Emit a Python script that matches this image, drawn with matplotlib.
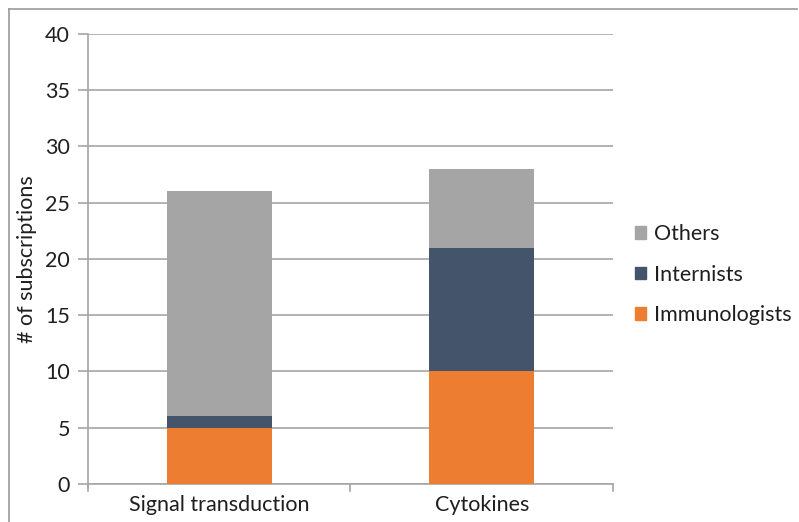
import matplotlib.pyplot as plt
import numpy as np
from matplotlib.lines import Line2D
from matplotlib.patches import Patch

plt.rcParams["font.family"] = ["Lato", "DejaVu Sans"]

categories = ["Signal transduction", "Cytokines"]
immunologists = [5, 10]
internists = [1, 11]
others = [20, 7]

series = [
    ("Immunologists", immunologists, "#ED7D31"),
    ("Internists", internists, "#44546A"),
    ("Others", others, "#A5A5A5"),
]

grid_col = "#A6A6A6"
text_col = "#1F1F1F"
fs = 15.5

fig = plt.figure(figsize=(7.99, 5.22), dpi=100)
ax = fig.add_axes([0.1101, 0.0728, 0.6571, 0.8621])

x = np.arange(len(categories))
bottom = np.zeros(len(categories))
for name, vals, col in series:
    ax.bar(x, vals, width=0.4, bottom=bottom, color=col, label=name, zorder=3)
    bottom += np.array(vals)

ax.set_xlim(-0.5, len(categories) - 0.5)
ax.set_ylim(0, 40)
ax.set_yticks(range(0, 41, 5))
ax.yaxis.grid(True, color=grid_col, lw=1.2, zorder=0)

ax.set_xticks(x)
ax.set_xticklabels(categories, fontsize=fs, color=text_col)
ax.tick_params(axis="x", length=0, pad=8)
ax.tick_params(axis="y", length=7, color=grid_col, width=1.2, labelsize=fs,
               labelcolor=text_col, pad=6)

# category separators below the x axis
for b in np.arange(-0.5, len(categories), 1.0):
    ax.plot([b, b], [0, -0.016], transform=ax.get_xaxis_transform(),
            color=grid_col, lw=1.2, clip_on=False)

for s in ["top", "right"]:
    ax.spines[s].set_visible(False)
for s in ["left", "bottom"]:
    ax.spines[s].set_color(grid_col)
    ax.spines[s].set_linewidth(1.2)
ax.spines["left"].set_bounds(-0.4, 40)
ax.spines["left"].set_zorder(4)

ax.set_ylabel("# of subscriptions", fontsize=fs, color=text_col, labelpad=6)

handles = [Patch(color=col, label=name) for name, _, col in reversed(series)]
fig.legend(handles=handles, loc="center left", bbox_to_anchor=(0.771, 0.474),
           frameon=False, fontsize=fs, handlelength=0.5, handleheight=0.5,
           handletextpad=0.35, labelspacing=0.95, labelcolor=text_col)

# outer frame (left and top edges)
fig.add_artist(Line2D([9 / 799, 9 / 799], [0, 1 - 9 / 522], color="#999999", lw=1.2))
fig.add_artist(Line2D([9 / 799, 797 / 799], [1 - 9 / 522, 1 - 9 / 522], color="#999999", lw=1.2))

fig.savefig("out.png", dpi=100)
